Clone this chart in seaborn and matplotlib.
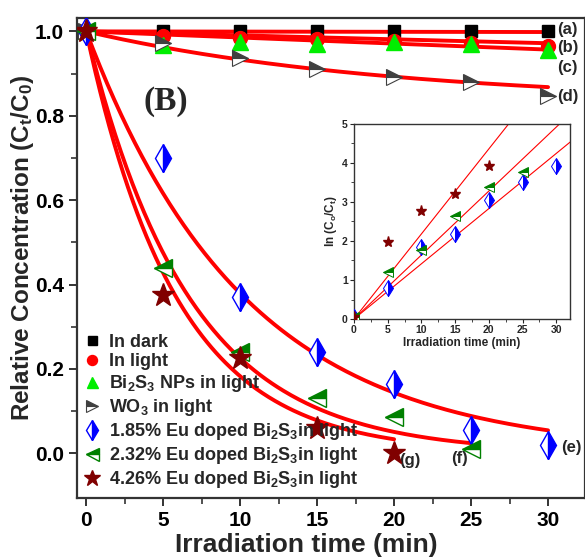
import numpy as np
import pandas as pd
import matplotlib
matplotlib.use("Agg")
import matplotlib.pyplot as plt
import seaborn as sns

# ---------------- data ----------------
time_main = [0, 5, 10, 15, 20, 25, 30]
dark = [1.0, 1.0, 1.0, 1.0, 1.0, 1.0, 1.0]
light = [1.0, 0.99, 0.985, 0.982, 0.978, 0.972, 0.965]
bi2s3 = [1.0, 0.968, 0.975, 0.97, 0.975, 0.97, 0.955]
wo3 = [1.0, 0.972, 0.938, 0.912, 0.893, 0.879, 0.848]
eu185 = [1.0, 0.70, 0.37, 0.24, 0.165, 0.055, 0.02]
time_eu232 = [0, 5, 10, 15, 20, 25]
eu232 = [1.0, 0.44, 0.24, 0.13, 0.085, 0.01]
time_eu426 = [0, 5, 10, 15, 20]
eu426 = [1.0, 0.375, 0.225, 0.06, 0.0]

# fitted curve parameters: C/C0 = y0 + (1-y0)*exp(-k t)
fit_names = ["a", "b", "c", "d", "e", "f", "g"]
fit_k = [0.00005, 0.00095, 0.00147, 0.05, 0.097, 0.149, 0.17]
fit_y0 = [0.0, 0.0, 0.0, 0.83, 0.0, 0.0, 0.0]
fit_tmax = [30, 30, 30, 30, 30, 25, 20]

# inset: ln(C0/Ct)
inset_t185 = [0, 5, 10, 15, 20, 25, 30]
inset_185 = [0.05, 0.8, 1.84, 2.18, 3.06, 3.52, 3.93]
inset_t232 = [0, 5, 10, 15, 20, 25]
inset_232 = [0.05, 1.2, 1.77, 2.63, 3.38, 3.78]
inset_t426 = [0, 5, 10, 15, 20]
inset_426 = [0.05, 1.97, 2.78, 3.2, 3.91]
inset_slopes = [0.1415, 0.164, 0.218]

legend_labels = ["In dark", "In light", r"Bi$_2$S$_3$ NPs in light", r"WO$_3$ in light",
                 r"1.85% Eu doped Bi$_2$S$_3$in light", r"2.32% Eu doped Bi$_2$S$_3$in light",
                 r"4.26% Eu doped Bi$_2$S$_3$in light"]
curve_tags = ["(a)", "(b)", "(c)", "(d)", "(e)", "(f)", "(g)"]

# ---------------- style ----------------
sns.set_theme(style="ticks")
FONT = ["Liberation Sans", "DejaVu Sans"]
plt.rcParams["font.family"] = FONT
plt.rcParams["mathtext.fontset"] = "custom"
plt.rcParams["mathtext.rm"] = "Liberation Sans:bold"
plt.rcParams["mathtext.it"] = "Liberation Sans:bold"
plt.rcParams["mathtext.bf"] = "Liberation Sans:bold"

fig = plt.figure(figsize=(5.85, 5.59), dpi=100)
ax = fig.add_axes([0.1316, 0.109, 0.8684, 0.859])

RED = "#ff0000"
# fitted curves
for name, k, y0, tm in zip(fit_names, fit_k, fit_y0, fit_tmax):
    tt = np.linspace(0, tm, 200)
    yy = y0 + (1 - y0) * np.exp(-k * tt)
    sns.lineplot(x=tt, y=yy, ax=ax, color=RED, lw=2.8, zorder=3, legend=False)

# markers
ms = 9
h = []
h += ax.plot(time_main, dark, ls="", marker="s", ms=ms, color="black", zorder=4)
h += ax.plot(time_main, light, ls="", marker="o", ms=ms + 1, color=RED, zorder=4)
h += ax.plot(time_main, bi2s3, ls="", marker="^", ms=ms + 2, color="#00ee00", zorder=4)
h += ax.plot(time_main, wo3, ls="", marker=">", ms=ms + 3, color="#404040",
             fillstyle="top", markerfacecoloralt="white", mec="#404040", mew=0.8, zorder=5)
h += ax.plot(time_main, eu185, ls="", marker="d", ms=ms + 5, color="#0000ff",
             fillstyle="right", markerfacecoloralt="white", mec="#0000ff", mew=1.0, zorder=5)
h += ax.plot(time_eu232, eu232, ls="", marker="<", ms=ms + 4, color="#008000",
             fillstyle="top", markerfacecoloralt="white", mec="#008000", mew=1.0, zorder=5)
h += ax.plot(time_eu426, eu426, ls="", marker="*", ms=ms + 8, color="#800000", zorder=5)

ax.set_xlim(-0.6, 32.4)
ax.set_ylim(-0.106, 1.032)
ax.set_xticks([0, 5, 10, 15, 20, 25, 30])
ax.set_xticks(np.arange(2.5, 32, 5), minor=True)
ax.set_yticks([0.0, 0.2, 0.4, 0.6, 0.8, 1.0])
ax.set_yticks(np.arange(0.1, 1.0, 0.2), minor=True)
ax.set_yticklabels(["0.0", "0.2", "0.4", "0.6", "0.8", "1.0"])
ax.tick_params(which="major", length=6, width=1.4, direction="out", labelsize=15, colors="#333333",
               labelcolor="black")
ax.tick_params(which="minor", length=4, width=1.2, direction="out", colors="#333333")
for lab in ax.get_xticklabels() + ax.get_yticklabels():
    lab.set_fontweight("bold")
for sp in ax.spines.values():
    sp.set_linewidth(1.6)
    sp.set_color("#333333")
ax.set_xlabel("Irradiation time (min)", fontsize=19, fontweight="bold")
ax.xaxis.set_label_coords(0.451, -0.073)
ax.set_ylabel(r"Relative Concentration (C$_t$/C$_0$)", fontsize=17.5, fontweight="bold")
ax.yaxis.label.set_va("center")
ax.yaxis.set_label_coords(-0.108, 0.521)

ax.text(5.2, 0.835, "(B)", fontsize=24, fontweight="bold", family=["Liberation Serif", "DejaVu Serif"],
        ha="center", va="center")

tag_pos = [(30.6, 1.004), (30.6, 0.962), (30.6, 0.914), (30.6, 0.846),
           (30.85, 0.014), (23.7, -0.012), (20.35, -0.017)]
for tag, (tx, ty) in zip(curve_tags, tag_pos):
    ax.text(tx, ty, tag, fontsize=12, fontweight="bold", ha="left", va="center")

leg = ax.legend(h, legend_labels, loc="lower left", bbox_to_anchor=(0.0, 0.0), frameon=False,
                prop={"size": 13, "weight": "bold"}, handletextpad=0.5, labelspacing=0.16,
                borderaxespad=0.15, borderpad=0.3, handlelength=0.8, markerscale=0.72)

# ---------------- inset ----------------
ins = fig.add_axes([0.605, 0.4293, 0.369, 0.349])
for sl in inset_slopes:
    tt = np.linspace(0.2, 33, 50)
    sns.lineplot(x=tt, y=sl * tt, ax=ins, color=RED, lw=0.8, legend=False, zorder=2)
ins.plot(inset_t185, inset_185, ls="", marker="d", ms=8, color="#0000ff", fillstyle="right",
         markerfacecoloralt="white", mec="#0000ff", mew=0.7, zorder=4)
ins.plot(inset_t232, inset_232, ls="", marker="<", ms=6.5, color="#008000", fillstyle="top",
         markerfacecoloralt="white", mec="#008000", mew=0.7, zorder=4)
ins.plot(inset_t426, inset_426, ls="", marker="*", ms=8, color="#800000", zorder=4)
ins.set_xlim(0, 32)
ins.set_ylim(0, 5)
ins.set_xticks([0, 5, 10, 15, 20, 25, 30])
ins.set_xticks(np.arange(2.5, 32, 2.5), minor=True)
ins.set_yticks([0, 1, 2, 3, 4, 5])
ins.set_yticks(np.arange(0.5, 5, 1), minor=True)
ins.tick_params(which="major", length=3, width=0.8, direction="out", labelsize=7.5, pad=1.5)
ins.tick_params(which="minor", length=2, width=0.6, direction="out")
for lab in ins.get_xticklabels() + ins.get_yticklabels():
    lab.set_fontweight("bold")
for sp in ins.spines.values():
    sp.set_linewidth(1.0)
    sp.set_color("#333333")
ins.set_xlabel("Irradiation time (min)", fontsize=8.5, fontweight="bold", labelpad=1)
ins.set_ylabel(r"ln (C$_o$/C$_t$)", fontsize=8.5, fontweight="bold", labelpad=2)

fig.savefig("out.png", dpi=100)
